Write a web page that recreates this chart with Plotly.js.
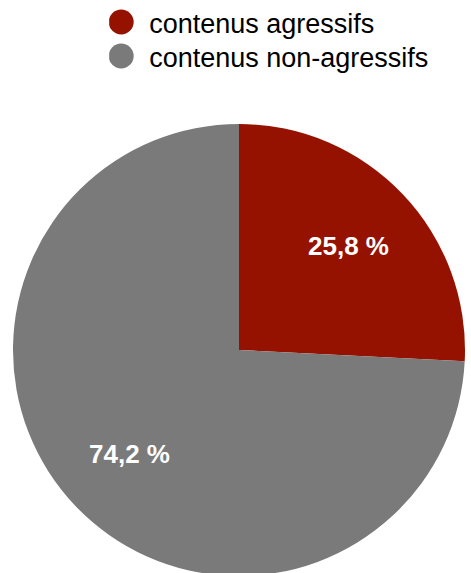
<!DOCTYPE html>
<html>
<head>
<meta charset="utf-8">
<script src="https://cdn.plot.ly/plotly-3.0.1.min.js"></script>
<style>
html, body { margin: 0; padding: 0; overflow: hidden; background: #fff; }
#chart { width: 471px; height: 576px; }
</style>
</head>
<body>
<div id="chart"></div>
<script>
const categories = ["contenus agressifs", "contenus non-agressifs"];
const shares = [25.8, 74.2];
const colors = ["#961200", "#7a7a7a"];

const labelsText = shares.map(v => v.toFixed(1).replace('.', ',') + ' %');

const W = 471, H = 576;
const cx = 239, cyTop = 350, R = 226;
const labelRadius = 0.67;
const FONT = '"Liberation Sans", Arial, Helvetica, sans-serif';

const data = [{
  type: 'pie',
  labels: categories,
  values: shares,
  textinfo: 'none',
  sort: false,
  direction: 'clockwise',
  rotation: 0,
  marker: { colors: colors, line: { width: 0 } },
  hoverinfo: 'none',
  domain: {
    x: [(cx - R) / W, (cx + R) / W],
    y: [(H - cyTop - R) / H, (H - cyTop + R) / H]
  }
}];

// slice labels placed at each slice's mid-angle, derived from the data
const total = shares.reduce((a, b) => a + b, 0);
let cum = 0;
const annotations = shares.map(function (v, i) {
  const mid = (cum + v / 2) / total;
  cum += v;
  const th = 2 * Math.PI * mid;
  const d = labelRadius * R;
  return {
    xref: 'paper', yref: 'paper',
    x: (cx + d * Math.sin(th)) / W,
    y: (H - cyTop + d * Math.cos(th)) / H,
    xanchor: 'center', yanchor: 'middle',
    text: labelsText[i],
    showarrow: false,
    font: { family: FONT, size: 26, color: '#ffffff', weight: 'bold' }
  };
});

const layout = {
  width: W,
  height: H,
  margin: { l: 0, r: 0, t: 0, b: 0 },
  paper_bgcolor: '#ffffff',
  showlegend: true,
  annotations: annotations,
  legend: {
    orientation: 'v',
    x: 0.2318, xanchor: 'left',
    y: 1.0, yanchor: 'top',
    font: { family: FONT, size: 27, color: '#000000' },
    traceorder: 'normal',
    tracegroupgap: 0
  }
};

Plotly.newPlot('chart', data, layout, { displayModeBar: false, staticPlot: true }).then(function () {
  const r = 12.5, off = -8;
  document.querySelectorAll('.legend .legendpoints path').forEach(function (p) {
    p.setAttribute('d', 'M' + (off + r) + ',0A' + r + ',' + r + ' 0 1,1 ' + off + ',-' + r +
      'A' + r + ',' + r + ' 0 0,1 ' + (off + r) + ',0Z');
  });
  const firstY = 22, step = 34;
  const items = document.querySelectorAll('.legend .traces');
  items.forEach(function (g, i) {
    const p = g.querySelector('.legendpoints path');
    if (!p) return;
    const b = p.getBoundingClientRect();
    const cy = b.top + b.height / 2;
    const delta = (firstY + i * step) - cy;
    g.setAttribute('transform', (g.getAttribute('transform') || '') + ' translate(0,' + delta + ')');
  });
});
</script>
</body>
</html>
